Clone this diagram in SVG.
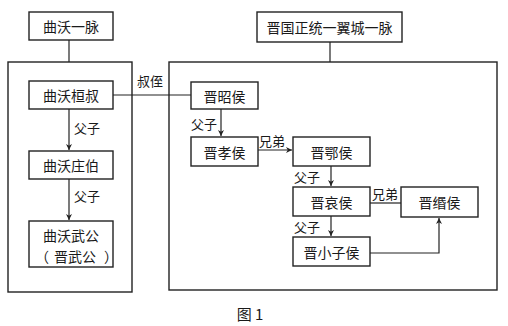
<svg xmlns="http://www.w3.org/2000/svg" width="508" height="326" viewBox="0 0 508 326">
<defs>
<marker id="ah" viewBox="0 0 10 10" refX="10" refY="5" markerWidth="6" markerHeight="6" markerUnits="userSpaceOnUse" orient="auto">
<path d="M0,0 L10,5 L0,10 L3,5 Z" fill="#222"/>
</marker>
</defs>
<style>
.box{fill:#fff;stroke:#222;stroke-width:1.4}
.frame{fill:none;stroke:#222;stroke-width:1.4}
.t{font-family:"Noto Sans CJK SC","Noto Sans",sans-serif;font-size:14px;fill:#1a1a1a;text-anchor:middle;dominant-baseline:central}
.lbl{font-family:"Noto Sans CJK SC","Noto Sans",sans-serif;font-size:13px;fill:#1a1a1a;dominant-baseline:central}
.ln{fill:none;stroke:#222;stroke-width:1.2}
.arr{fill:none;stroke:#222;stroke-width:1.2;marker-end:url(#ah)}
</style>
<rect width="508" height="326" fill="#fff"/>
<g id="frames">
<rect class="frame" x="8" y="62" width="124" height="230"/>
<rect class="frame" x="169" y="62" width="328" height="228"/>
</g>
<g id="connectors">
<line class="ln" x1="69" y1="40" x2="69" y2="62"/>
<line class="ln" x1="330" y1="42" x2="330" y2="62"/>
<line class="arr" x1="69" y1="109" x2="69" y2="150"/>
<line class="arr" x1="69" y1="179" x2="69" y2="220"/>
<line class="ln" x1="113" y1="95" x2="191" y2="95"/>
<line class="arr" x1="221" y1="109" x2="221" y2="136"/>
<line class="arr" x1="258" y1="150" x2="292" y2="150"/>
<line class="arr" x1="331" y1="166" x2="331" y2="186"/>
<line class="ln" x1="370" y1="203" x2="401" y2="203"/>
<line class="arr" x1="331" y1="216" x2="331" y2="236"/>
<polyline class="arr" points="370,253 439,253 439,218"/>
<text class="lbl" x="74" y="127">父子</text>
<text class="lbl" x="74" y="195">父子</text>
<text class="lbl" x="137" y="80">叔侄</text>
<text class="lbl" x="191" y="123">父子</text>
<text class="lbl" x="259" y="140">兄弟</text>
<text class="lbl" x="294" y="176">父子</text>
<text class="lbl" x="372" y="193">兄弟</text>
<text class="lbl" x="294" y="226">父子</text>
</g>
<g id="quwo">
<rect class="box" x="29" y="12" width="84" height="28"/>
<text class="t" x="71" y="26">曲沃一脉</text>
</g>
<g id="jinguo">
<rect class="box" x="257" y="12" width="145" height="30"/>
<text class="t" x="329.5" y="27">晋国正统一翼城一脉</text>
</g>
<g id="huanshu">
<rect class="box" x="29" y="81" width="84" height="28"/>
<text class="t" x="71" y="95">曲沃桓叔</text>
</g>
<g id="zhuangbo">
<rect class="box" x="29" y="151" width="84" height="28"/>
<text class="t" x="71" y="165">曲沃庄伯</text>
</g>
<g id="wugong">
<rect class="box" x="29" y="221" width="84" height="46"/>
<text class="t" x="71" y="235">曲沃武公</text>
<text class="t" y="256"><tspan x="42">（</tspan><tspan x="75">晋武公</tspan><tspan x="111">）</tspan></text>
</g>
<g id="zhaohou">
<rect class="box" x="191" y="82" width="67" height="27"/>
<text class="t" x="224.5" y="95.5">晋昭侯</text>
</g>
<g id="xiaohou">
<rect class="box" x="191" y="137" width="67" height="29"/>
<text class="t" x="224.5" y="151.5">晋孝侯</text>
</g>
<g id="ehou">
<rect class="box" x="293" y="137" width="77" height="29"/>
<text class="t" x="331.5" y="151.5">晋鄂侯</text>
</g>
<g id="aihou">
<rect class="box" x="293" y="187" width="77" height="29"/>
<text class="t" x="331.5" y="201.5">晋哀侯</text>
</g>
<g id="minhou">
<rect class="box" x="401" y="187" width="77" height="30"/>
<text class="t" x="439.5" y="202">晋缗侯</text>
</g>
<g id="xiaozihou">
<rect class="box" x="293" y="237" width="77" height="29"/>
<text class="t" x="331.5" y="251.5">晋小子侯</text>
</g>
<text x="250" y="313" font-family="'Noto Sans CJK SC','Liberation Serif',serif" font-size="15" fill="#1a1a1a" text-anchor="middle" dominant-baseline="central">图 1</text>
</svg>
